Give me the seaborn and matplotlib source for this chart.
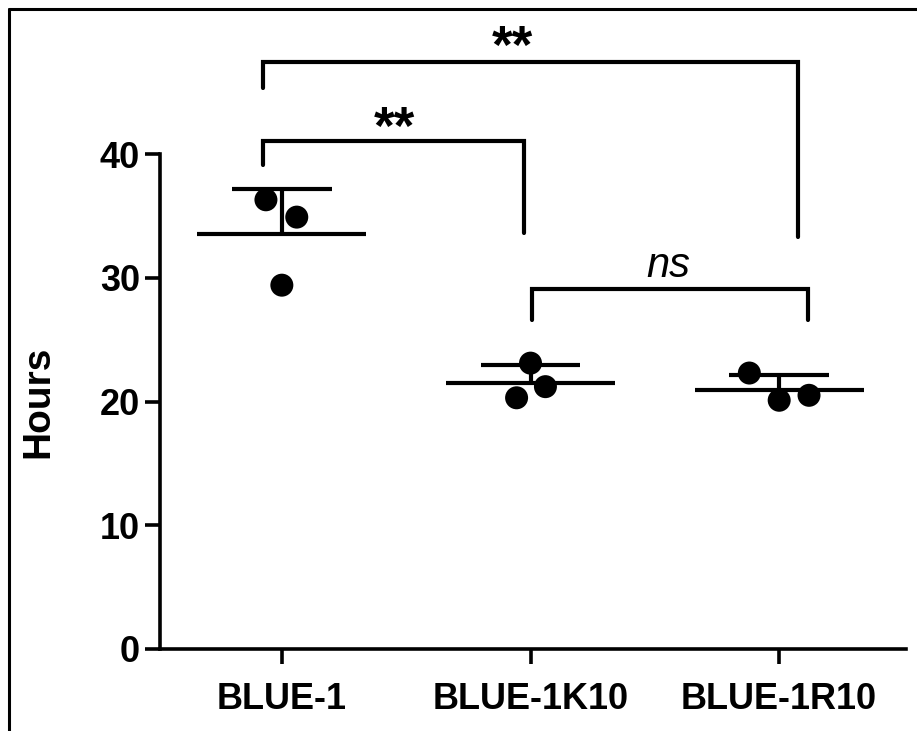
import numpy as np
import pandas as pd
import matplotlib
matplotlib.use("Agg")
import matplotlib.pyplot as plt
from matplotlib.lines import Line2D
import seaborn as sns

# ---- data ----
groups = ["BLUE-1", "BLUE-1K10", "BLUE-1R10"]
blue1 = [36.3, 34.9, 29.4]
blue1k10 = [23.1, 21.2, 20.3]
blue1r10 = [22.3, 20.1, 20.5]
series = [blue1, blue1k10, blue1r10]
yticks = [0, 10, 20, 30, 40]

# significance comparisons: (label, italic)
comparisons = [("**", False), ("**", False), ("ns", True)]

# ---- layout (positions of points inside a group, bracket geometry) ----
x_offsets = [[-0.064, 0.06, 0.0], [0.0, 0.06, -0.056], [-0.12, 0.0, 0.12]]
# bracket: x_left, x_right, y_top, y_left_end, y_right_end, text_x, text_y
brackets = [
    (-0.076, 2.076, 47.43, 45.3, 33.3, 0.926, 46.5),
    (-0.076, 0.974, 41.05, 39.1, 33.6, 0.453, 39.9),
    (1.006, 2.116, 29.1, 26.6, 26.6, 1.555, 29.35),
]

rows = []
for gi, (g, vals) in enumerate(zip(groups, series)):
    for v, off in zip(vals, x_offsets[gi]):
        rows.append({"group": g, "value": v, "xpos": gi + off})
df = pd.DataFrame(rows)

sns.set_theme(style="ticks")
plt.rcParams["font.family"] = ["Liberation Sans", "DejaVu Sans"]
plt.rcParams["text.color"] = "black"
plt.rcParams["axes.labelcolor"] = "black"

fig = plt.figure(figsize=(9.17, 7.31), dpi=100)
ax = fig.add_axes([160 / 917, 1 - 649 / 731, (906 - 160) / 917, (649 - 154) / 731])

sns.scatterplot(data=df, x="xpos", y="value", color="black", s=274,
                linewidth=0, edgecolor="none", ax=ax, zorder=2, legend=False)

# mean and SD (upper)
for gi, vals in enumerate(series):
    m = np.mean(vals)
    sd = np.std(vals, ddof=1)
    ax.plot([gi - 0.34, gi + 0.34], [m, m], color="black", lw=3, zorder=3,
            solid_capstyle="butt")
    ax.plot([gi - 0.2, gi + 0.2], [m + sd, m + sd], color="black", lw=3,
            zorder=3, solid_capstyle="butt")
    ax.plot([gi, gi], [m, m + sd], color="black", lw=3, zorder=3)

# significance brackets
for (lab, ital), (xl, xr, yt, yl, yr, tx, ty) in zip(comparisons, brackets):
    ax.plot([xl, xl, xr, xr], [yl, yt, yt, yr], color="black", lw=3,
            clip_on=False, zorder=4, solid_joinstyle="miter")
    if ital:
        ax.text(tx, ty, lab, ha="center", va="bottom", fontsize=30,
                style="italic", color="black", clip_on=False)
    else:
        ax.text(tx, ty, lab, ha="center", va="bottom", fontsize=38,
                fontweight="bold", color="black", clip_on=False)

ax.set_xlim(-0.49, 2.51)
ax.set_ylim(0, 40)
ax.set_yticks(yticks)
ax.set_yticklabels([str(t) for t in yticks], fontsize=26, fontweight="bold")
ax.set_xticks(range(len(groups)))
ax.set_xticklabels(groups, fontsize=26, fontweight="bold")
ax.set_xlabel("")
ax.set_ylabel("Hours", fontsize=28, fontweight="bold", color="black")
ax.yaxis.set_label_coords(-0.139, 0.5)

for side in ["top", "right"]:
    ax.spines[side].set_visible(False)
for side in ["left", "bottom"]:
    ax.spines[side].set_linewidth(2.6)
    ax.spines[side].set_color("black")
ax.tick_params(axis="both", which="major", length=10.5, width=2.6,
               color="black", labelcolor="black")
ax.tick_params(axis="y", pad=4)
ax.tick_params(axis="x", pad=13)

# outer frame (top and left edges visible)
fig.add_artist(Line2D([9 / 917, 1.0], [1 - 9 / 731, 1 - 9 / 731],
                      transform=fig.transFigure, color="black", lw=2.2))
fig.add_artist(Line2D([9 / 917, 9 / 917], [0.0, 1 - 9 / 731],
                      transform=fig.transFigure, color="black", lw=2.2))

fig.savefig("out.png", dpi=100, facecolor="white")
